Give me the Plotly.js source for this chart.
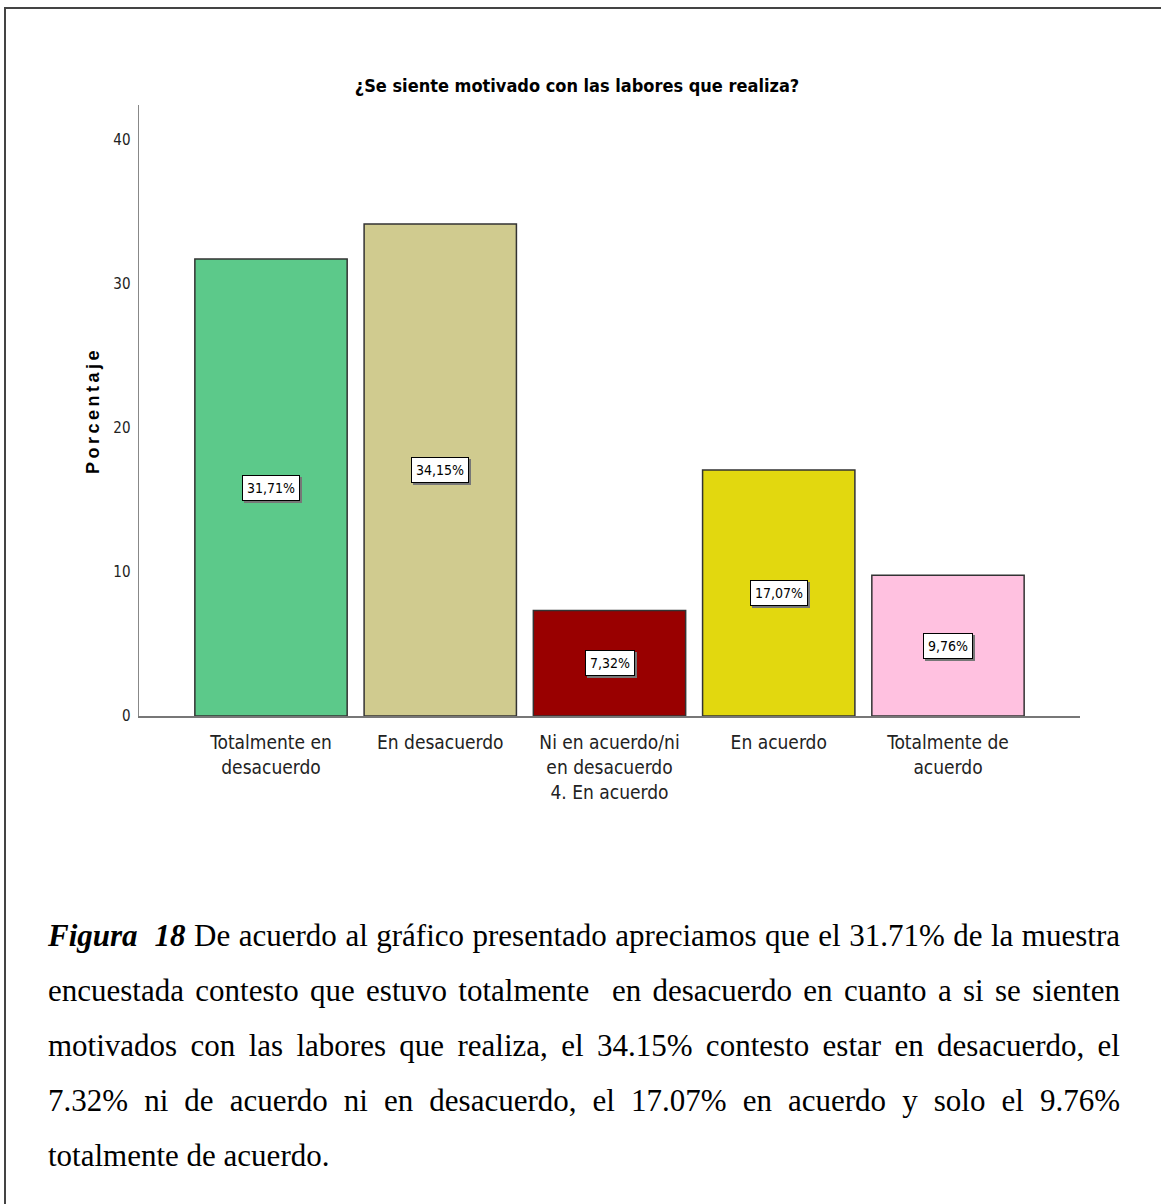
<!DOCTYPE html>
<html lang="es">
<head>
<meta charset="utf-8">
<script src="https://cdn.plot.ly/plotly-3.0.1.min.js"></script>
<style>
  html, body { margin: 0; padding: 0; background: #ffffff; }
  #page { position: relative; width: 1161px; height: 1204px; overflow: hidden; background: #fff; }
  #frameTop { position: absolute; left: 4px; top: 7px; width: 1157px; height: 2px; background: #444; }
  #frameLeft { position: absolute; left: 4px; top: 7px; width: 2px; height: 1197px; background: #444; }
  #chart { position: absolute; left: 0; top: 0; width: 1161px; height: 1204px; }
  #chart .ytitle { letter-spacing: 3.5px; }
  #caption { position: absolute; left: 48px; top: 908px; width: 1072px;
             font-family: "Liberation Serif", "Times New Roman", serif; font-size: 31px;
             line-height: 55px; color: #000; }
  #caption .ln { text-align: justify; text-align-last: justify; white-space: nowrap; }
  #caption .ln.last { text-align: left; text-align-last: left; }
  #caption .fig { font-weight: bold; font-style: italic; }
</style>
</head>
<body>
<div id="page">
  <div id="chart"></div>
  <div id="frameTop"></div>
  <div id="frameLeft"></div>
  <div id="caption">
    <div class="ln"><span class="fig">Figura&nbsp; 18</span> De acuerdo al gráfico presentado apreciamos que el 31.71% de la muestra</div>
    <div class="ln">encuestada contesto que estuvo totalmente&nbsp; en desacuerdo en cuanto a si se sienten</div>
    <div class="ln">motivados con las labores que realiza, el 34.15% contesto estar en desacuerdo, el</div>
    <div class="ln">7.32% ni de acuerdo ni en desacuerdo, el 17.07% en acuerdo y solo el 9.76%</div>
    <div class="ln last">totalmente de acuerdo.</div>
  </div>
</div>
<script>
// Respuestas a la pregunta y porcentaje de la muestra
const categories = [
  "Totalmente en desacuerdo",
  "En desacuerdo",
  "Ni en acuerdo/ni en desacuerdo 4. En acuerdo",
  "En acuerdo",
  "Totalmente de acuerdo"
];
const tickLabels = [
  "Totalmente en<br>desacuerdo",
  "En desacuerdo",
  "Ni en acuerdo/ni<br>en desacuerdo<br>4. En acuerdo",
  "En acuerdo",
  "Totalmente de<br>acuerdo"
];
const percentages = [31.71, 34.15, 7.32, 17.07, 9.76];
const barColors = ["#5cc98a", "#d0cb8f", "#990000", "#e2d80f", "#ffc1e0"];
const yTicks = [0, 10, 20, 30, 40];

const narrow = '"Liberation Sans Narrow", "Arial Narrow", "DejaVu Sans Condensed", sans-serif';

const trace = {
  type: "bar",
  x: categories,
  y: percentages,
  width: 0.9,
  marker: { color: barColors, line: { color: "#333333", width: 1.5 } },
  hoverinfo: "x+y"
};

// Etiquetas de valor en el centro de cada barra, con sombra
const fmt = v => v.toFixed(2).replace(".", ",") + "%";
const annotations = [];
percentages.forEach((v, i) => {
  annotations.push({
    x: categories[i], y: v / 2, xref: "x", yref: "y",
    text: fmt(v), showarrow: false, xshift: 2, yshift: -2,
    font: { family: narrow, size: 14, color: "#777" },
    bgcolor: "#777", bordercolor: "#777", borderwidth: 1, borderpad: 4
  });
  annotations.push({
    x: categories[i], y: v / 2, xref: "x", yref: "y",
    text: fmt(v), showarrow: false,
    font: { family: narrow, size: 14, color: "#000" },
    bgcolor: "#ffffff", bordercolor: "#000", borderwidth: 1, borderpad: 4
  });
});

const layout = {
  width: 1161, height: 1204,
  paper_bgcolor: "rgba(0,0,0,0)", plot_bgcolor: "rgba(0,0,0,0)",
  margin: { l: 139, r: 81, t: 105, b: 488 },
  showlegend: false,
  bargap: 0.1,
  title: {
    text: "<b>¿Se siente motivado con las labores que realiza?</b>",
    font: { family: narrow, size: 18, color: "#000" },
    xref: "container", x: 0.497, yref: "container", y: 1 - 86 / 1204,
    xanchor: "center", yanchor: "middle"
  },
  xaxis: {
    type: "category",
    range: [-0.78, 4.78],
    tickvals: categories, ticktext: tickLabels,
    showline: true, linecolor: "#777", linewidth: 1.5,
    ticks: "", showgrid: false, zeroline: false,
    tickfont: { family: narrow, size: 19, color: "#222" },
    ticklabelstandoff: 9
  },
  yaxis: {
    range: [0, 42.4],
    tickvals: yTicks,
    showline: true, linecolor: "#888", linewidth: 1.5,
    ticks: "", showgrid: false, zeroline: false,
    tickfont: { family: narrow, size: 15, color: "#222" },
    ticklabelstandoff: 4,
    title: {
      text: "<b>Porcentaje</b>",
      font: { family: '"Liberation Sans", Arial, sans-serif', size: 18, color: "#000" },
      standoff: 9
    }
  },
  annotations: annotations
};

Plotly.newPlot("chart", [trace], layout, { displayModeBar: false, staticPlot: true });
</script>
</body>
</html>
